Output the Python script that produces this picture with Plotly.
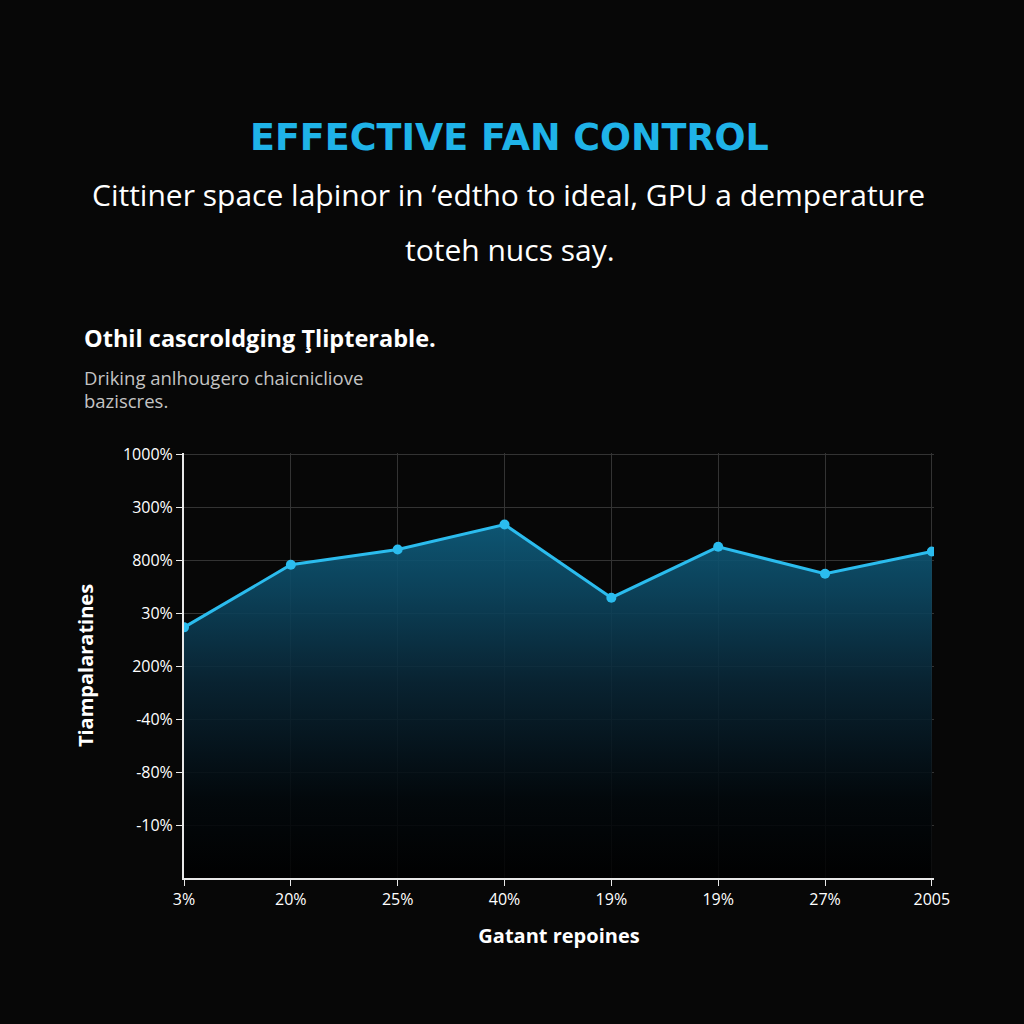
import plotly.graph_objects as go

# ---- data ----
x_labels = ["3%", "20%", "25%", "40%", "19%", "19%", "27%", "2005"]
y_values = [4.73, 5.91, 6.20, 6.67, 5.29, 6.25, 5.74, 6.16]
y_tick_labels = ["-10%", "-80%", "-40%", "200%", "30%", "800%", "300%", "1000%"]
y_tick_positions = [1, 2, 3, 4, 5, 6, 7, 8]

BG = "#070707"
CYAN = "#2bbcee"
FONT = "Open Sans"

x_idx = list(range(len(x_labels)))

fig = go.Figure()
fig.add_trace(go.Scatter(
    x=x_idx, y=y_values,
    mode="lines+markers",
    line=dict(color=CYAN, width=3),
    marker=dict(color=CYAN, size=10),
    fill="tozeroy",
    fillgradient=dict(
        type="vertical",
        colorscale=[
            [0.0, "rgba(0,0,0,0.85)"],
            [0.22, "rgba(2,8,12,0.88)"],
            [0.55, "rgba(9,38,54,0.88)"],
            [0.8, "rgba(12,70,96,0.9)"],
            [1.0, "rgba(14,92,124,0.92)"],
        ],
    ),
    hoverinfo="skip",
))

L, R, T, B = 184, 90, 453, 146
W = 1024 - L - R
H = 1024 - T - B

def px(xp):
    return (xp - L) / W

def py(yp):
    return (1024 - B - yp) / H

fig.update_layout(
    width=1024, height=1024,
    paper_bgcolor=BG, plot_bgcolor=BG,
    margin=dict(l=L, r=R, t=T, b=B),
    showlegend=False,
    font=dict(family=FONT, color="white"),
    xaxis=dict(
        range=[0, 7.02], tickmode="array", tickvals=x_idx, ticktext=x_labels,
        showgrid=True, gridcolor="#333333", gridwidth=1,
        showline=True, linecolor="#e8e8e8", linewidth=2,
        ticks="outside", ticklen=6, tickcolor="#e8e8e8",
        tickfont=dict(size=16, color="white"),
        zeroline=False,
        title=dict(text="<b>Gatant repoines</b>", font=dict(size=20, color="white"), standoff=20),
    ),
    yaxis=dict(
        range=[0, 8.02], tickmode="array", tickvals=y_tick_positions, ticktext=y_tick_labels,
        showgrid=True, gridcolor="#333333", gridwidth=1,
        showline=True, linecolor="#e8e8e8", linewidth=2,
        ticks="outside", ticklen=6, tickcolor="#e8e8e8",
        tickfont=dict(size=16, color="white"),
        zeroline=False,
        title=dict(text="<b>Tiampalaratines</b>", font=dict(size=20, color="white"), standoff=24),
    ),
)

annotations = [
    dict(text="<b>EFFECTIVE FAN CONTROL</b>", x=px(509), y=py(137), size=36.5, color="#1fb3e8", xanchor="center", font="DejaVu Sans"),
    dict(text="Cittiner space laþinor in ‘edtho to ideal, GPU a demperature", x=px(508), y=py(195), size=30, color="white", xanchor="center", font=FONT),
    dict(text="toteh nucs say.", x=px(510), y=py(249), size=30, color="white", xanchor="center", font=FONT),
    dict(text="<b>Othil cascroldging Ţlipterable.</b>", x=px(82), y=py(338), size=23.5, color="white", xanchor="left", font=FONT),
    dict(text="Driking anlhougero chaicnicliove", x=px(82), y=py(377), size=18.5, color="#c4c4c4", xanchor="left", font=FONT),
    dict(text="baziscres.", x=px(82), y=py(400), size=18.5, color="#c4c4c4", xanchor="left", font=FONT),
]
for a in annotations:
    fig.add_annotation(
        text=a["text"], x=a["x"], y=a["y"], xref="paper", yref="paper",
        xanchor=a["xanchor"], yanchor="middle", showarrow=False,
        font=dict(family=a["font"], size=a["size"], color=a["color"]),
    )

fig.write_html("out.html")
